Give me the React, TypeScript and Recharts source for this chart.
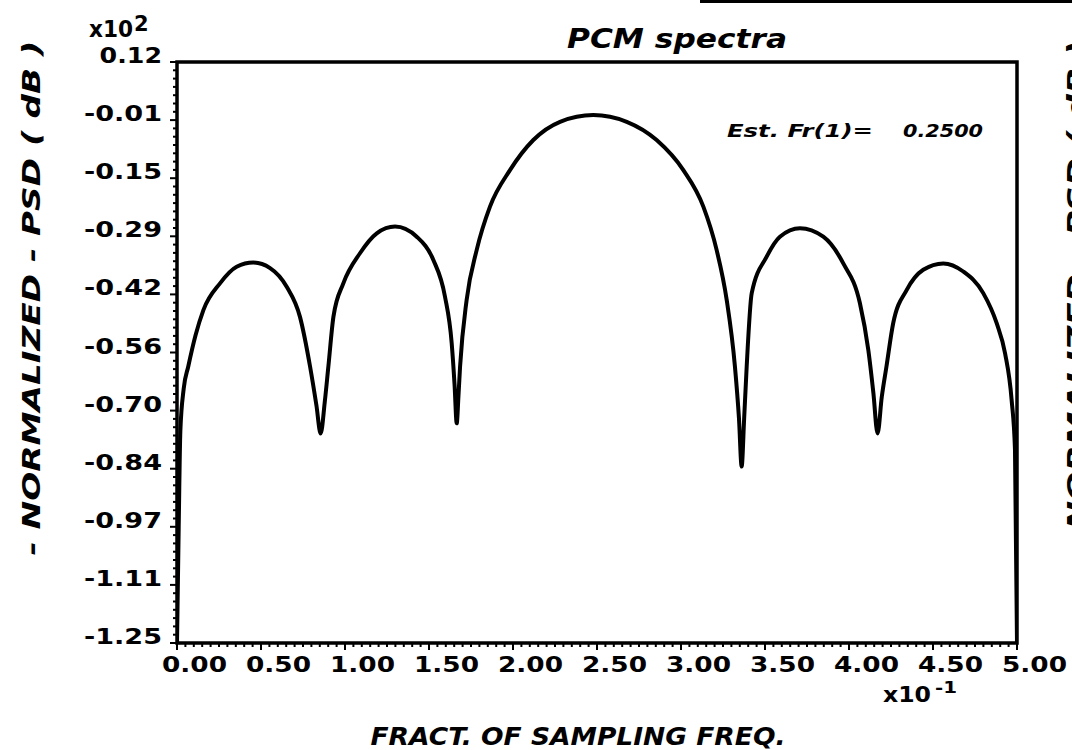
import React from 'react';
import { LineChart, Line, XAxis, YAxis, ReferenceArea } from 'recharts';

// fraction of sampling freq (x10^-1)
const freq = [
  0.0, 0.01, 0.02, 0.04, 0.067, 0.11, 0.157, 0.256, 0.355, 0.454, 0.554, 0.653, 0.732, 0.792, 0.83, 0.855,
  0.88, 0.901, 0.931, 0.99, 1.089, 1.189, 1.298, 1.427, 1.526, 1.595, 1.635, 1.652, 1.665, 1.675, 1.685,
  1.724, 1.784, 1.863, 1.982, 2.121, 2.28, 2.478, 2.677, 2.855, 3.014, 3.133, 3.212, 3.272, 3.321, 3.345,
  3.361, 3.376, 3.391, 3.421, 3.51, 3.589, 3.708, 3.847, 3.966, 4.065, 4.115, 4.145, 4.17, 4.195, 4.223,
  4.263, 4.343, 4.442, 4.561, 4.68, 4.799, 4.879, 4.929, 4.968, 4.988, 5.0,
];
// normalized PSD (dB x10^2)
const psd = [
  -1.25, -0.98, -0.75, -0.65, -0.598, -0.525, -0.465, -0.402, -0.363, -0.353, -0.366, -0.41, -0.481, -0.598, -0.69, -0.756,
  -0.68, -0.598, -0.481, -0.402, -0.331, -0.284, -0.268, -0.292, -0.347, -0.433, -0.543, -0.64, -0.732, -0.67, -0.598,
  -0.441, -0.323, -0.221, -0.135, -0.064, -0.021, -0.005, -0.021, -0.064, -0.135, -0.221, -0.323, -0.441, -0.598, -0.72,
  -0.834, -0.72, -0.598, -0.425, -0.339, -0.292, -0.272, -0.292, -0.355, -0.449, -0.559, -0.66, -0.756, -0.67, -0.598,
  -0.496, -0.418, -0.37, -0.355, -0.374, -0.425, -0.496, -0.567, -0.677, -0.795, -1.25,
];

const xTickLabels = ['0.00', '0.50', '1.00', '1.50', '2.00', '2.50', '3.00', '3.50', '4.00', '4.50', '5.00'];
const yTickValues = [0.12, -0.017, -0.154, -0.291, -0.428, -0.565, -0.702, -0.839, -0.976, -1.113, -1.25];
const yTickLabels = ['0.12', '-0.01', '-0.15', '-0.29', '-0.42', '-0.56', '-0.70', '-0.84', '-0.97', '-1.11', '-1.25'];

const data = freq.map((f, i) => ({ f, psd: psd[i] }));

// minor ticks: 10 per x label, 7 per y label
const xTicks = Array.from({ length: 101 }, (_, i) => i * 0.05);
const yTicks: number[] = [];
for (let i = 0; i < yTickValues.length - 1; i++) {
  for (let j = 0; j < 7; j++) yTicks.push(yTickValues[i] + ((yTickValues[i + 1] - yTickValues[i]) * j) / 7);
}
yTicks.push(yTickValues[yTickValues.length - 1]);

const FONT = "'DejaVu Sans', sans-serif";

const XTick = (props: any) => {
  const { x, y, payload } = props;
  const k = payload.value / 0.5;
  const major = Math.abs(k - Math.round(k)) < 1e-6;
  return (
    <g>
      <line x1={x} x2={x} y1={y} y2={y + (major ? 7 : 4)} stroke="#000" strokeWidth={2} />
      {major && (
        <text x={x - 15} y={y + 29} fontFamily={FONT} fontWeight="bold" fontSize={21} textLength={65} lengthAdjust="spacingAndGlyphs">
          {xTickLabels[Math.round(k)]}
        </text>
      )}
    </g>
  );
};

const YTick = (props: any) => {
  const { x, y, index } = props;
  const major = index % 7 === 0;
  const label = yTickLabels[index / 7];
  return (
    <g>
      <line x1={x} x2={x - (major ? 7 : 4)} y1={y} y2={y} stroke="#000" strokeWidth={2} />
      {major && (
        <text x={x - 15} y={y + 1} textAnchor="end" fontFamily={FONT} fontWeight="bold" fontSize={21}
          textLength={label.length * 15.6} lengthAdjust="spacingAndGlyphs">
          {label}
        </text>
      )}
    </g>
  );
};

const yTitle = '- NORMALIZED - PSD ( dB )';

export default function App() {
  return (
    <div style={{ position: 'absolute', left: 0, top: 0, width: 1072, height: 750, background: '#fff' }}>
      <LineChart width={1072} height={750} data={data} margin={{ top: 62, right: 55, bottom: 77, left: 117 }}>
        <XAxis dataKey="f" type="number" domain={[0, 5]} ticks={xTicks} interval={0} height={30}
          axisLine={false} tickLine={false} tickSize={0} tickMargin={0} tick={<XTick />} allowDataOverflow />
        <YAxis type="number" domain={[-1.25, 0.12]} ticks={yTicks} interval={0} width={60}
          axisLine={false} tickLine={false} tickSize={0} tickMargin={0} tick={<YTick />} allowDataOverflow />
        <ReferenceArea x1={0} x2={5} y1={-1.25} y2={0.12} fill="none" stroke="#000" strokeWidth={3.5} ifOverflow="visible" />
        <Line type="monotone" dataKey="psd" stroke="#000" strokeWidth={4} dot={false} isAnimationActive={false} />
      </LineChart>
      <svg width={1072} height={750} style={{ position: 'absolute', left: 0, top: 0, pointerEvents: 'none' }}>
        <rect x={700} y={0} width={372} height={3} fill="#000" />
        <text x={89} y={37} fontFamily={FONT} fontWeight="bold" fontSize={23} textLength={44} lengthAdjust="spacingAndGlyphs">x10</text>
        <text x={134} y={31} fontFamily={FONT} fontWeight="bold" fontSize={21}>2</text>
        <text x={677} y={48} textAnchor="middle" fontFamily={FONT} fontStyle="italic" fontWeight="bold" fontSize={27}
          textLength={220} lengthAdjust="spacingAndGlyphs">PCM spectra</text>
        <text x={727} y={137} fontFamily={FONT} fontStyle="italic" fontWeight="bold" fontSize={17}
          textLength={146} lengthAdjust="spacingAndGlyphs">Est. Fr(1)=</text>
        <text x={903} y={137} fontFamily={FONT} fontStyle="italic" fontWeight="bold" fontSize={17}
          textLength={80} lengthAdjust="spacingAndGlyphs">0.2500</text>
        <text x={883} y={702} fontFamily={FONT} fontWeight="bold" fontSize={21} textLength={48} lengthAdjust="spacingAndGlyphs">x10</text>
        <text x={935} y={693} fontFamily={FONT} fontWeight="bold" fontSize={15} textLength={22} lengthAdjust="spacingAndGlyphs">-1</text>
        <text x={578} y={745} textAnchor="middle" fontFamily={FONT} fontStyle="italic" fontWeight="bold" fontSize={25}
          textLength={415} lengthAdjust="spacingAndGlyphs">FRACT. OF SAMPLING FREQ.</text>
        <text x={0} y={0} transform="translate(40 298) rotate(-90)" textAnchor="middle" fontFamily={FONT} fontStyle="italic"
          fontWeight="bold" fontSize={25} textLength={515} lengthAdjust="spacingAndGlyphs">{yTitle}</text>
        <text x={0} y={0} transform="translate(1085 298) rotate(-90)" textAnchor="middle" fontFamily={FONT} fontStyle="italic"
          fontWeight="bold" fontSize={25} textLength={515} lengthAdjust="spacingAndGlyphs">{yTitle}</text>
      </svg>
    </div>
  );
}
